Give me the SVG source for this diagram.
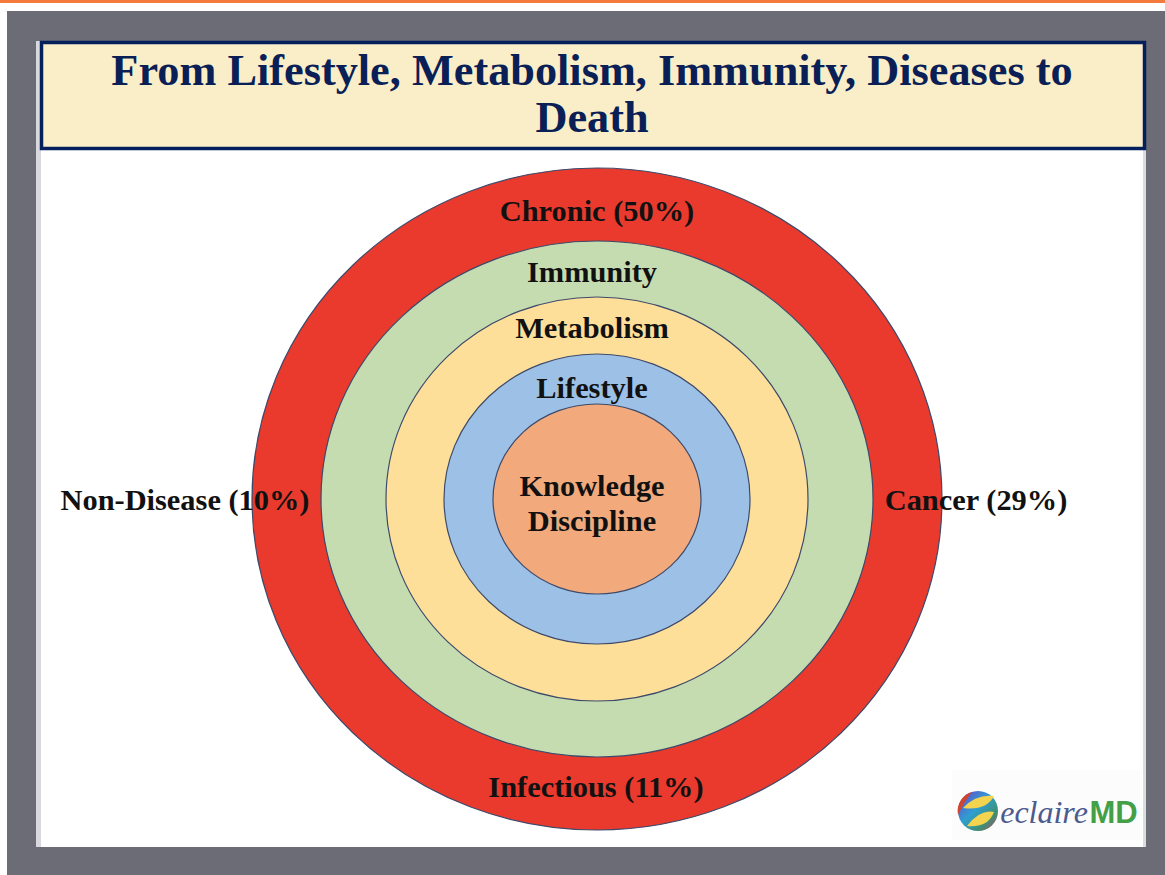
<svg xmlns="http://www.w3.org/2000/svg" width="1165" height="875" viewBox="0 0 1165 875">
<style>
text{font-family:"Liberation Serif","Times New Roman",serif;font-weight:bold;text-anchor:middle;fill:#111}
.lab{font-size:30.400px}
.ring{stroke:#3d4a6b;stroke-width:1.200}
.t{font-size:44.300px;fill:#0b1f57}
</style>
<defs>
<linearGradient id="orb" x1="0" y1="0" x2="1" y2="1"><stop offset="0" stop-color="#6a3fd0"/><stop offset=".45" stop-color="#2f9fd0"/><stop offset=".75" stop-color="#3f8f70"/><stop offset="1" stop-color="#c0407a"/></linearGradient>
</defs>
<rect width="1165" height="875" fill="#fff"/>
<rect x="0" y="0" width="1165" height="3" fill="#f47a3c"/>
<rect x="7" y="11" width="1158" height="864" fill="#6c6c76"/>
<rect x="36" y="41" width="1110" height="806" fill="#fff"/>
<rect x="36" y="41" width="5" height="806" fill="#d8d8de"/>
<rect x="1143" y="150" width="3" height="697" fill="#dcdce0"/>
<g id="title">
<rect x="41.500" y="42.500" width="1103" height="106" fill="#faeec8" stroke="#04205c" stroke-width="3.500"/>
<text class="t" x="592" y="85">From Lifestyle, Metabolism, Immunity, Diseases to</text>
<text class="t" x="592" y="132">Death</text>
</g>
<g id="connectors"></g>
<g id="node-outer"><ellipse class="ring" cx="597" cy="499" rx="345" ry="331" fill="#e93a2d"/></g>
<g id="node-immunity"><ellipse class="ring" cx="597" cy="499" rx="276" ry="258" fill="#c5dcb0"/></g>
<g id="node-metabolism"><ellipse class="ring" cx="597" cy="499" rx="211" ry="202" fill="#fedf9a"/></g>
<g id="node-lifestyle"><ellipse class="ring" cx="597" cy="499" rx="153" ry="145" fill="#9dc1e6"/></g>
<g id="node-core"><ellipse class="ring" cx="597" cy="499" rx="104" ry="95" fill="#f2a97c"/></g>
<g id="labels">
<text class="lab" x="597" y="221">Chronic (50%)</text>
<text class="lab" x="592" y="282">Immunity</text>
<text class="lab" x="592" y="338">Metabolism</text>
<text class="lab" x="592" y="398">Lifestyle</text>
<text class="lab" x="592" y="496">Knowledge</text>
<text class="lab" x="592" y="531">Discipline</text>
<text class="lab" x="185" y="510">Non-Disease (10%)</text>
<text class="lab" x="976" y="510">Cancer (29%)</text>
<text class="lab" x="596" y="797">Infectious (11%)</text>
</g>
<g id="logo">
<rect x="952" y="770" width="190" height="70" fill="#fcfcfc"/>
<circle cx="978" cy="811" r="20" fill="url(#orb)"/>
<path d="M958 815A20 20 0 0 1 972 792Q964 802 958 815Z" fill="#d0452f"/>
<path d="M963 808Q976 794 994 796Q986 811 963 808ZM967 826Q980 809 994 812Q988 828 967 826Z" fill="#f4d34f"/>
<text x="1044" y="823" style="font-size:32px;font-style:italic;font-weight:normal;fill:#4b5a8f">eclaire</text>
<text x="1113.500" y="823" style="font-family:'Liberation Sans',sans-serif;font-size:31px;fill:#43a047">MD</text>
</g>
</svg>
